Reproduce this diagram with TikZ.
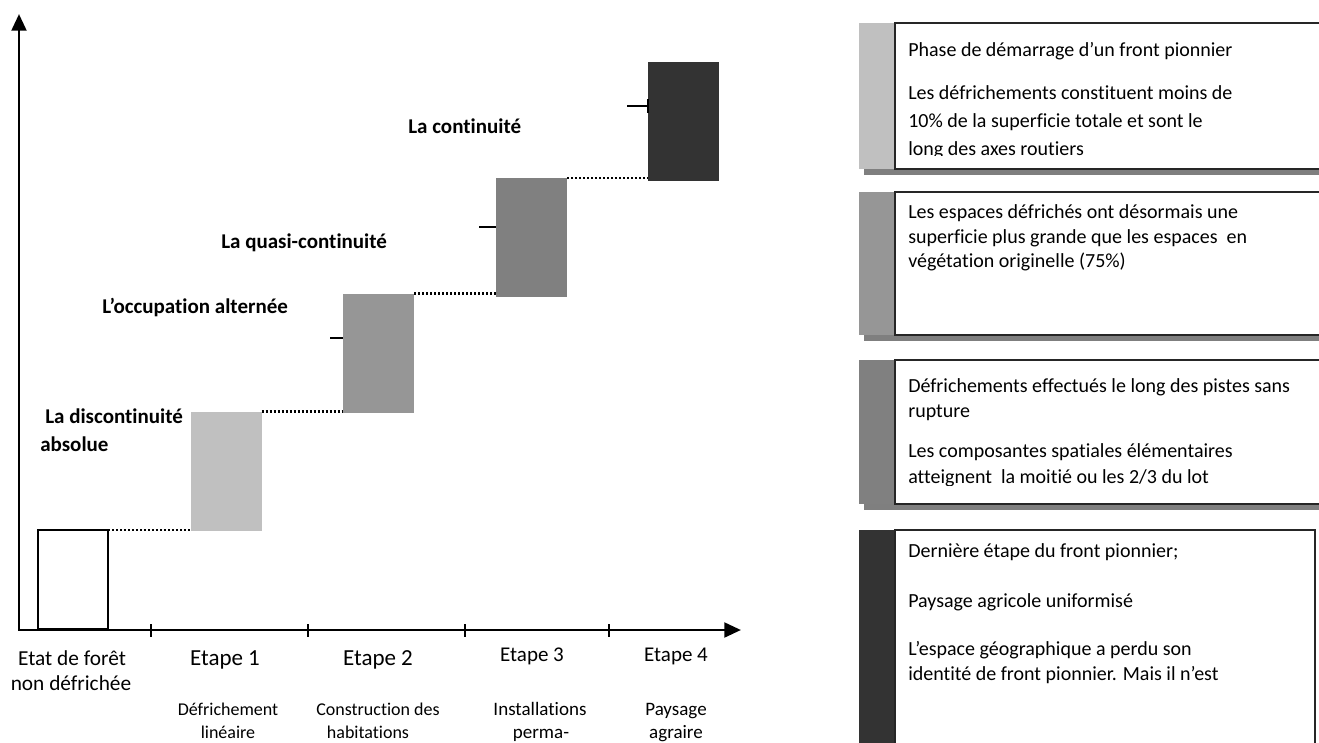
\documentclass[tikz,border=0pt]{standalone}
\usepackage{fontspec}
\setmainfont{Carlito}[Ligatures=NoCommon]
\usepackage{tikz}
\usetikzlibrary{arrows.meta}

\definecolor{grayA}{HTML}{C0C0C0}
\definecolor{grayB}{HTML}{969696}
\definecolor{grayC}{HTML}{808080}
\definecolor{grayD}{HTML}{333333}
\definecolor{shadowgray}{HTML}{7F7F7F}

\begin{document}
\begin{tikzpicture}[x=0.75pt, y=-0.75pt, inner sep=0pt,
	axis/.style={line width=2.2pt, line join=miter, {Triangle[length=12.5pt, width=11pt]}-{Triangle[length=12.5pt, width=11pt]}},
	tick/.style={line width=1.8pt},
	bar/.style={rectangle, outer sep=0pt, minimum width=53.25pt, minimum height=89.25pt},
	link/.style={line width=2pt, dash pattern=on 1.5pt off 1.5pt},
	dashmark/.style={line width=1.9pt},
	stage/.style={font=\bfseries\fontsize{15.75}{19}\selectfont, anchor=base west},
	legtext/.style={font=\fontsize{15}{18}\selectfont, anchor=base west},
	legshadow/.style={fill=shadowgray},
	legbox/.style={draw=black!85, fill=white, line width=1.1pt}]
		\useasboundingbox (0,0) rectangle (1319,742);

		% axes
		\coordinate (o) at (19,630);
		\coordinate (ytip) at (19,14);
		\coordinate (xtip) at (741,630);
		\draw[axis] (ytip) -- (o) -- (xtip);
		\foreach \x in {151,308,465,609}
			\draw[tick] (\x,624) -- (\x,637);

		% bars
		\node[bar, draw=black, line width=1.1pt, minimum width=52.5pt, minimum height=74.25pt](b0) at (73,579.5) {};
		\node[bar, fill=grayA](b1) at (226,471) {};
		\node[bar, fill=grayB](b2) at (378.5,353) {};
		\node[bar, fill=grayC](b3) at (531.5,237.5) {};
		\node[bar, fill=grayD](b4) at (683.5,121.5) {};

		\draw[link](b0.north east) -- (b0.north east -| b1.west);
		\draw[link](b1.north east) -- (b1.north east -| b2.west);
		\draw[link](b2.north east) -- (b2.north east -| b3.west);
		\draw[link](b3.north east) -- (b3.north east -| b4.west);

		\coordinate (m2) at (330,338);
		\coordinate (m3) at (479,227);
		\coordinate (m4) at (627,106);
		\draw[dashmark](m2) -- (m2 -| b2.west);
		\draw[dashmark](m3) -- (m3 -| b3.west);
		\draw[dashmark](m4) -- (m4 -| b4.west);
		\draw[line width=1.3pt]([yshift=5.25pt]m4 -| b4.west) -- ([yshift=-5.25pt]m4 -| b4.west);

		\node[stage](l4) at (408,133) {La continuité};
		\node[stage](l3) at (221,248) {La quasi-continuité};
		\node[stage](l2) at (102,313) {L’occupation alternée};
		\node[stage](l1) at (45,423) {La discontinuité};
		\node[stage](l1b) at (40,451) {absolue};

		% axis labels
		\node[anchor=base, font=\fontsize{16}{19}\selectfont](e0) at (72,665) {Etat de forêt};
		\node[anchor=base, font=\fontsize{16}{19}\selectfont](e0b) at (71,690) {non défrichée};
		\node[anchor=base, font=\fontsize{17.25}{20}\selectfont](e1) at (225,665) {Etape 1};
		\node[anchor=base, font=\fontsize{17.25}{20}\selectfont](e2) at (378,665) {Etape 2};
		\node[anchor=base, font=\fontsize{15.75}{19}\selectfont](e3) at (532,661) {Etape 3};
		\node[anchor=base, font=\fontsize{15.75}{19}\selectfont](e4) at (676,661) {Etape 4};

		\node[anchor=base, font=\fontsize{13.5}{16}\selectfont](d1) at (228,715) {Défrichement};
		\node[anchor=base, font=\fontsize{13.5}{16}\selectfont](d1b) at (228,738) {linéaire};
		\node[anchor=base, font=\fontsize{13.5}{16}\selectfont](d2) at (378,715) {Construction des};
		\node[anchor=base, font=\fontsize{13.5}{16}\selectfont](d2b) at (368,738) {habitations};
		\node[anchor=base, font=\fontsize{14.25}{17}\selectfont](d3) at (540,715) {Installations};
		\node[anchor=base, font=\fontsize{14.25}{17}\selectfont](d3b) at (541,738) {perma-};
		\node[anchor=base, font=\fontsize{14.25}{17}\selectfont](d4) at (676,715) {Paysage};
		\node[anchor=base, font=\fontsize{14.25}{17}\selectfont](d4b) at (676,738) {agraire};

		% legend
		\fill[legshadow] (864,28) rectangle (1330,175);
		\fill[grayA] (859,23) rectangle (895,169);
		\draw[legbox] (895,23) rectangle (1330,169);
		\node[legtext](ta1) at (908,57) {Phase de démarrage d’un front pionnier};
		\node[legtext](ta2) at (908,99) {Les défrichements constituent moins de};
		\node[legtext](ta3) at (908,127) {10\% de la superficie totale et sont le};
		\begin{scope}
			\clip (895,23) rectangle (1319,155);
			\node[legtext](ta4) at (908,155) {long des axes routiers};
		\end{scope}

		\fill[legshadow] (864,197) rectangle (1330,341);
		\fill[grayB] (859,192) rectangle (895,335);
		\draw[legbox] (895,192) rectangle (1330,335);
		\node[legtext](tb1) at (908,218) {Les espaces défrichés ont désormais une};
		\node[legtext](tb2) at (908,243) {superficie plus grande que les espaces\ \ en};
		\node[legtext](tb3) at (908,267) {végétation originelle (75\%)};

		\fill[legshadow] (864,365) rectangle (1330,510);
		\fill[grayC] (859,360) rectangle (895,504);
		\draw[legbox] (895,360) rectangle (1330,504);
		\node[legtext](tc1) at (908,392) {Défrichements effectués le long des pistes sans};
		\node[legtext](tc2) at (908,417) {rupture};
		\node[legtext](tc3) at (908,457) {Les composantes spatiales élémentaires};
		\begin{scope}
			\clip (895,360) rectangle (1319,485);
			\node[legtext](tc4) at (908,483) {atteignent\ \ la moitié ou les 2/3 du lot};
		\end{scope}

		\fill[grayD] (859,530) rectangle (895,760);
		\draw[legbox] (895,530) rectangle (1315,760);
		\node[legtext](td1) at (908,557) {Dernière étape du front pionnier;};
		\node[legtext](td2) at (908,607) {Paysage agricole uniformisé};
		\node[legtext](td3) at (908,655) {L’espace géographique a perdu son};
		\begin{scope}
			\clip (895,530) rectangle (1315,683);
			\node[legtext](td4) at (908,680) {identité de front pionnier. Mais il n’est};
		\end{scope}
	\end{tikzpicture}
\end{document}
